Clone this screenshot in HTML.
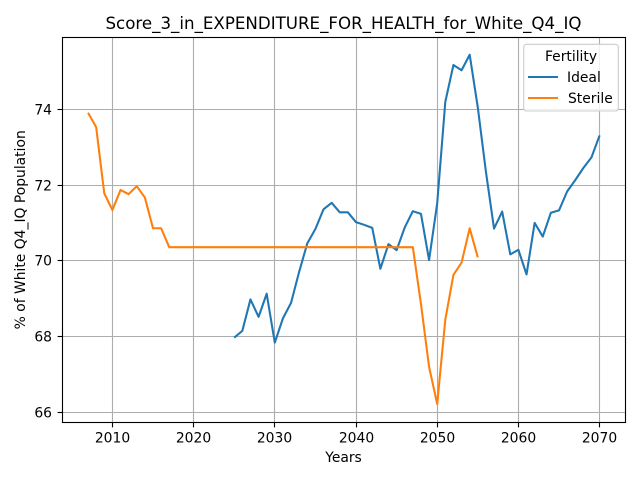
<!DOCTYPE html>
<html>
<head>
<meta charset="utf-8">
<title>Score_3_in_EXPENDITURE_FOR_HEALTH_for_White_Q4_IQ</title>
<style>
html,body{margin:0;padding:0;background:#fff;width:640px;height:480px;overflow:hidden}
svg{display:block}
text{font-family:"DejaVu Sans","Liberation Sans",sans-serif;fill:#000}
</style>
</head>
<body>
<svg id="chart" xmlns="http://www.w3.org/2000/svg" width="640" height="480" viewBox="0 0 640 480">
  <rect x="0" y="0" width="640" height="480" fill="#fff"/>
  <g id="grid"></g>
  <g id="series"></g>
  <rect x="62.5" y="37.5" width="563" height="385" fill="none" stroke="#000" stroke-width="1.11"/>
  <g id="ticks"></g>
  <text x="343.5" y="29" font-size="16.67" text-anchor="middle">Score_3_in_EXPENDITURE_FOR_HEALTH_for_White_Q4_IQ</text>
  <text x="343.5" y="462" font-size="13.89" text-anchor="middle">Years</text>
  <text transform="translate(25.2 229.8) rotate(-90)" font-size="13.89" text-anchor="middle">% of White Q4_IQ Population</text>
  <g>
    <rect x="523.7" y="44.3" width="94.6" height="66.7" rx="2.8" fill="#fff" fill-opacity="0.8" stroke="#ccc" stroke-width="1.1"/>
    <text x="571" y="61" font-size="13.89" text-anchor="middle">Fertility</text>
    <line x1="528" y1="77" x2="558" y2="77" stroke="#1f77b4" stroke-width="2"/>
    <text x="567" y="82" font-size="13.89">Ideal</text>
    <line x1="528" y1="98" x2="558" y2="98" stroke="#ff7f0e" stroke-width="2"/>
    <text x="568" y="103" font-size="13.89">Sterile</text>
  </g>
</svg>
<script>
const xTicks = [2010, 2020, 2030, 2040, 2050, 2060, 2070];
const yTicks = [66, 68, 70, 72, 74];
const idealYears = [2025,2026,2027,2028,2029,2030,2031,2032,2033,2034,2035,2036,2037,2038,2039,2040,2041,2042,2043,2044,2045,2046,2047,2048,2049,2050,2051,2052,2053,2054,2055,2056,2057,2058,2059,2060,2061,2062,2063,2064,2065,2066,2067,2068,2069,2070];
const idealValues = [67.97,68.15,68.98,68.52,69.13,67.84,68.48,68.89,69.71,70.46,70.84,71.36,71.53,71.28,71.28,71.02,70.95,70.87,69.79,70.44,70.28,70.88,71.31,71.24,70.02,71.52,74.2,75.17,75.03,75.44,74.05,72.35,70.85,71.3,70.17,70.29,69.64,71.0,70.64,71.27,71.33,71.83,72.13,72.45,72.73,73.31];
const sterileYears = [2007,2008,2009,2010,2011,2012,2013,2014,2015,2016,2017,2018,2019,2020,2021,2022,2023,2024,2025,2026,2027,2028,2029,2030,2031,2032,2033,2034,2035,2036,2037,2038,2039,2040,2041,2042,2043,2044,2045,2046,2047,2048,2049,2050,2051,2052,2053,2054,2055];
const sterileValues = [73.91,73.53,71.78,71.34,71.87,71.76,71.97,71.67,70.86,70.86,70.36,70.36,70.36,70.36,70.36,70.36,70.36,70.36,70.36,70.36,70.36,70.36,70.36,70.36,70.36,70.36,70.36,70.36,70.36,70.36,70.36,70.36,70.36,70.36,70.36,70.36,70.36,70.36,70.36,70.36,70.36,68.86,67.2,66.22,68.45,69.63,69.95,70.86,70.09];

const NS = 'http://www.w3.org/2000/svg';
const plotLeft = 62.5, plotRight = 625.5, plotTop = 37.5, plotBottom = 422.5;
function xScale(year) { return 112.4 + (year - 2010) * 8.12; }
function yScale(value) { return 412.3 - (value - 66) * 37.875; }
function snap(v) { return Math.floor(v) + 0.5; }

const gridGroup = document.getElementById('grid');
const tickGroup = document.getElementById('ticks');
const seriesGroup = document.getElementById('series');

function makeLine(x1, y1, x2, y2, color, width) {
  const l = document.createElementNS(NS, 'line');
  l.setAttribute('x1', x1);
  l.setAttribute('y1', y1);
  l.setAttribute('x2', x2);
  l.setAttribute('y2', y2);
  l.setAttribute('stroke', color);
  l.setAttribute('stroke-width', width);
  return l;
}
function makeText(x, y, anchor, content) {
  const t = document.createElementNS(NS, 'text');
  t.setAttribute('x', x);
  t.setAttribute('y', y);
  t.setAttribute('font-size', '13.89');
  t.setAttribute('text-anchor', anchor);
  t.textContent = content;
  return t;
}

xTicks.forEach(function (tick) {
  const x = snap(xScale(tick));
  const g = makeLine(x, plotTop, x, plotBottom, '#adadad', 1.11);
  
  
  gridGroup.appendChild(g);
  const m = makeLine(x, plotBottom, x, plotBottom + 4.9, '#000', 1.11);
  
  
  tickGroup.appendChild(m);
  const t = makeText(x, 442.3, 'middle', String(tick));
  
  
  tickGroup.appendChild(t);
});

yTicks.forEach(function (tick) {
  const y = snap(yScale(tick));
  const g = makeLine(plotLeft, y, plotRight, y, '#adadad', 1.11);
  
  
  gridGroup.appendChild(g);
  const m = makeLine(plotLeft - 4.9, y, plotLeft, y, '#000', 1.11);
  
  
  tickGroup.appendChild(m);
  const t = makeText(plotLeft - 10.5, y + 4.8, 'end', String(tick));
  
  
  tickGroup.appendChild(t);
});

function pointsFor(years, values) {
  return years.map(function (year, i) {
    return xScale(year).toFixed(2) + ',' + yScale(values[i]).toFixed(2);
  }).join(' ');
}

const idealLine = document.createElementNS(NS, 'polyline');


idealLine.setAttribute('points', pointsFor(idealYears, idealValues));
idealLine.setAttribute('fill', 'none');
idealLine.setAttribute('stroke', '#1f77b4');
idealLine.setAttribute('stroke-width', '2.08');
idealLine.setAttribute('stroke-linejoin', 'round');
seriesGroup.appendChild(idealLine);

const sterileLine = document.createElementNS(NS, 'polyline');


sterileLine.setAttribute('points', pointsFor(sterileYears, sterileValues));
sterileLine.setAttribute('fill', 'none');
sterileLine.setAttribute('stroke', '#ff7f0e');
sterileLine.setAttribute('stroke-width', '2.08');
sterileLine.setAttribute('stroke-linejoin', 'round');
seriesGroup.appendChild(sterileLine);
</script>
</body>
</html>
